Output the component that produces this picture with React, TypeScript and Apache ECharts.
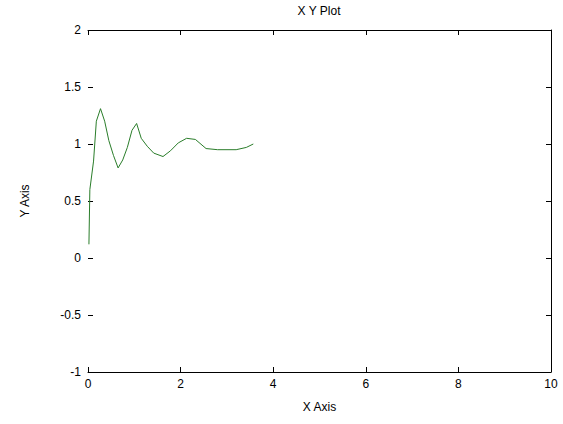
import React, { useEffect, useRef } from "react";
import * as echarts from "echarts";

const titleText = "X Y Plot";
const xAxisName = "X Axis";
const yAxisName = "Y Axis";
const xValues = [0.02, 0.04, 0.12, 0.18, 0.27, 0.36, 0.45, 0.55, 0.65, 0.75, 0.85, 0.95, 1.05, 1.15, 1.28, 1.42, 1.62, 1.78, 1.95, 2.13, 2.32, 2.55, 2.8, 3.2, 3.42, 3.57];
const yValues = [0.12, 0.6, 0.85, 1.2, 1.31, 1.2, 1.03, 0.9, 0.79, 0.86, 0.97, 1.12, 1.18, 1.05, 0.98, 0.92, 0.89, 0.94, 1.01, 1.05, 1.04, 0.96, 0.95, 0.95, 0.97, 1.0];

export default function App() {
  const ref = useRef<HTMLDivElement>(null);
  useEffect(() => {
    if (!ref.current) return;
    const chart = echarts.init(ref.current, null, { renderer: "svg" });
    const font = "'Liberation Sans', Arial, sans-serif";
    const axisLine = { show: true, onZero: false, lineStyle: { color: "#000", width: 1 } };
    const tick = { show: true, inside: true, length: 5, lineStyle: { color: "#000" } };
    const data = xValues.map((x, i) => [x, yValues[i]]);
    chart.setOption({
      animation: false,
      backgroundColor: "#fff",
      textStyle: { fontFamily: font },
      grid: { left: 88, right: 12, top: 30, bottom: 52, containLabel: false },
      graphic: [
        {
          type: "text",
          x: 319,
          y: 11,
          style: { text: titleText, font: `12px ${font}`, fill: "#000", textAlign: "center", textVerticalAlign: "middle" },
        },
      ],
      xAxis: [
        {
          type: "value",
          min: 0,
          max: 10,
          interval: 2,
          position: "bottom",
          name: xAxisName,
          nameLocation: "middle",
          nameGap: 29,
          nameTextStyle: { color: "#000", fontSize: 12, fontFamily: font },
          axisLine,
          axisTick: tick,
          axisLabel: { color: "#000", fontSize: 12, margin: 6, fontFamily: font },
          splitLine: { show: false },
        },
        {
          type: "value",
          min: 0,
          max: 10,
          interval: 2,
          position: "top",
          axisLine,
          axisTick: tick,
          axisLabel: { show: false },
          splitLine: { show: false },
        },
      ],
      yAxis: [
        {
          type: "value",
          min: -1,
          max: 2,
          interval: 0.5,
          position: "left",
          name: yAxisName,
          nameLocation: "middle",
          nameGap: 57,
          nameRotate: 90,
          nameTextStyle: { color: "#000", fontSize: 12, fontFamily: font },
          axisLine: { show: false, onZero: false },
          axisTick: tick,
          axisLabel: { color: "#000", fontSize: 12, margin: 7, fontFamily: font },
          splitLine: { show: false },
        },
        {
          type: "value",
          min: -1,
          max: 2,
          interval: 0.5,
          position: "right",
          axisLine,
          axisTick: tick,
          axisLabel: { show: false },
          splitLine: { show: false },
        },
      ],
      series: [
        {
          type: "line",
          data,
          xAxisIndex: 0,
          yAxisIndex: 0,
          showSymbol: false,
          symbol: "none",
          lineStyle: { color: "#2a7d2a", width: 1 },
        },
      ],
    });
    return () => chart.dispose();
  }, []);
  return <div ref={ref} style={{ position: "fixed", left: 0, top: 0, width: 563, height: 424, background: "#fff" }} />;
}
